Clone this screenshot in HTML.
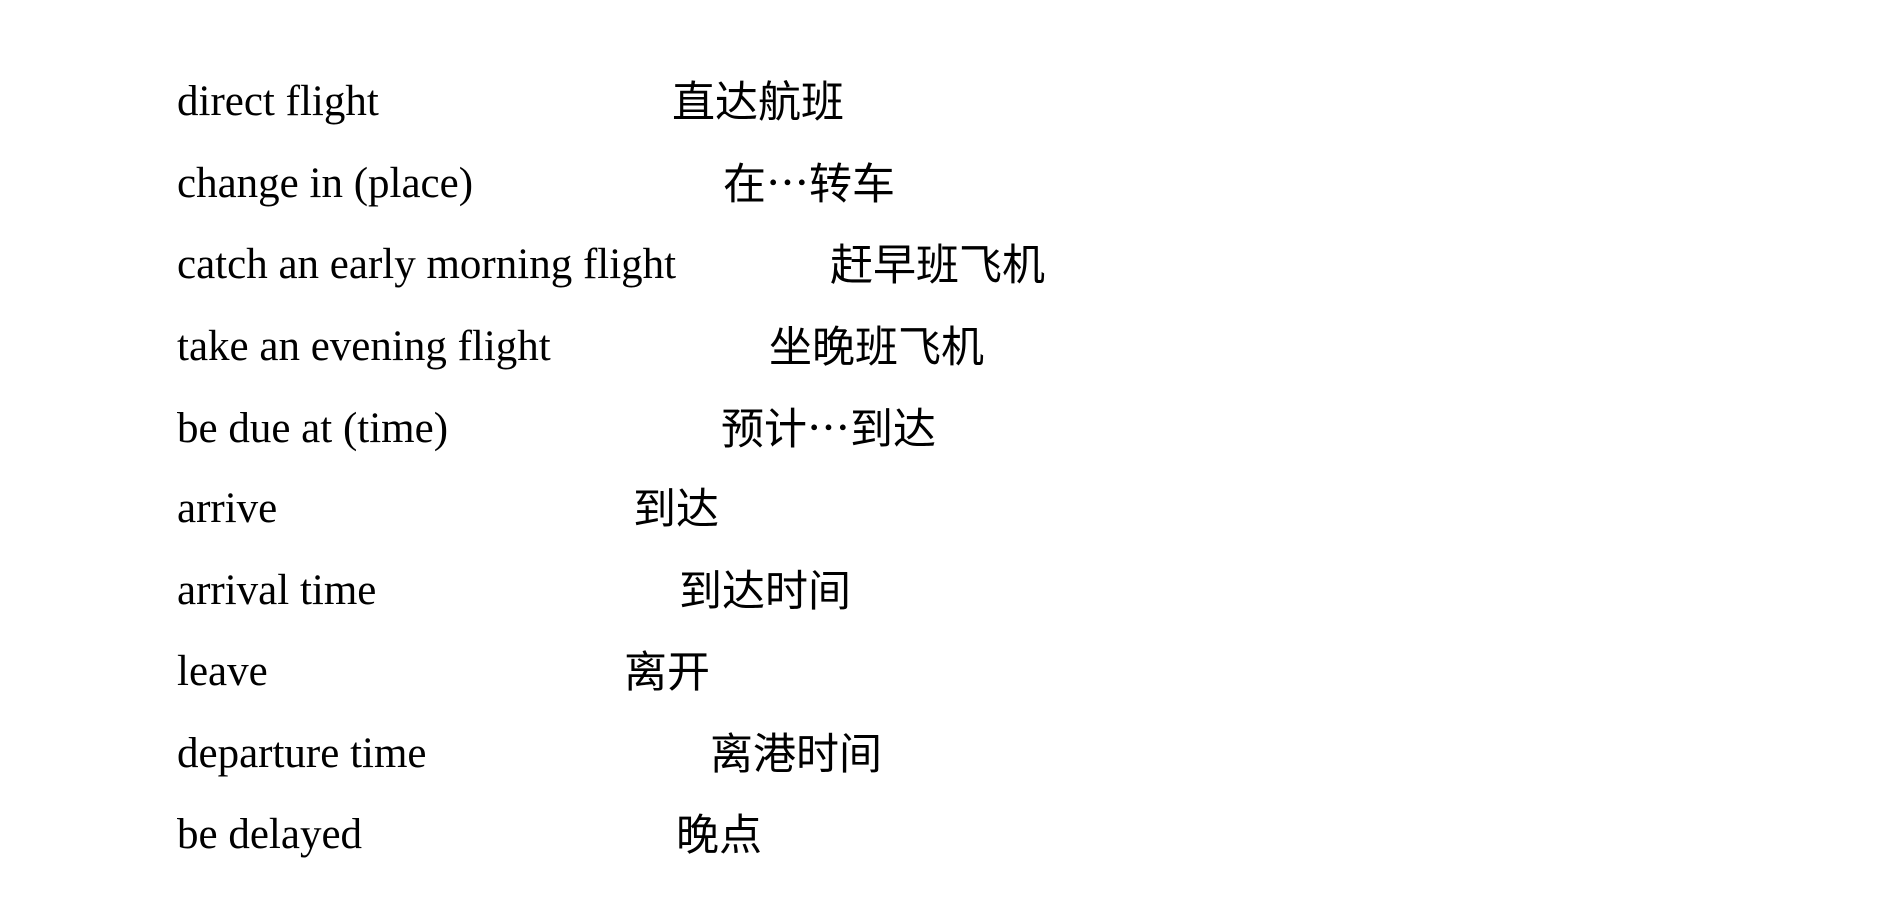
<!DOCTYPE html>
<html><head><meta charset="utf-8"><style>
body{margin:0;width:1885px;height:900px;background:#fff;position:relative;overflow:hidden;font-family:"Liberation Serif","Noto Serif CJK SC",serif;font-size:43px;color:#000}
div{position:absolute;line-height:43px;white-space:nowrap}
.z{font-family:"Liberation Serif","Noto Sans CJK SC",sans-serif;margin-top:2px}
</style></head><body>
<div style="left:177px;top:80px">direct flight</div><div class="z" style="left:672px;top:80px">直达航班</div>
<div style="left:177px;top:162px">change in (place)</div><div class="z" style="left:723px;top:162px">在⋯转车</div>
<div style="left:177px;top:243px">catch an early morning flight</div><div class="z" style="left:830px;top:243px">赶早班飞机</div>
<div style="left:177px;top:325px">take an evening flight</div><div class="z" style="left:769px;top:325px">坐晚班飞机</div>
<div style="left:177px;top:407px">be due at (time)</div><div class="z" style="left:721px;top:407px">预计⋯到达</div>
<div style="left:177px;top:487px">arrive</div><div class="z" style="left:633px;top:487px">到达</div>
<div style="left:177px;top:569px">arrival time</div><div class="z" style="left:679px;top:569px">到达时间</div>
<div style="left:177px;top:650px">leave</div><div class="z" style="left:624px;top:650px">离开</div>
<div style="left:177px;top:732px">departure time</div><div class="z" style="left:710px;top:732px">离港时间</div>
<div style="left:177px;top:813px">be delayed</div><div class="z" style="left:676px;top:813px">晚点</div>
</body></html>
